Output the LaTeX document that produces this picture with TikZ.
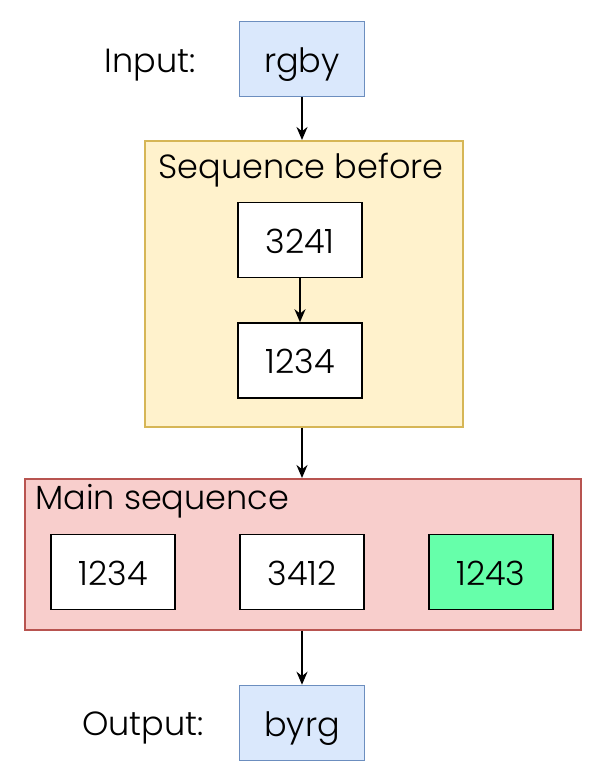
\documentclass[tikz,border=0pt]{standalone}
\usepackage{fontspec}
\setmainfont{Poppins}[UprightFont=* Light]
\usepackage{tikz}
\usetikzlibrary{shapes,arrows.meta,positioning}

\definecolor{ioFill}{HTML}{DAE8FC}
\definecolor{ioDraw}{HTML}{6C8EBF}
\definecolor{beforeFill}{HTML}{FFF2CC}
\definecolor{beforeDraw}{HTML}{D6B656}
\definecolor{mainFill}{HTML}{F8CECC}
\definecolor{mainDraw}{HTML}{B85450}
\definecolor{hitFill}{HTML}{66FFAA}

\begin{document}
\begin{tikzpicture}[x=1pt, y=-1pt, font=\fontsize{33.5}{40}\selectfont, >={Stealth[length=13pt,width=11pt]}]
    % Define styles
    \tikzstyle{io} = [rectangle, minimum width=125pt, minimum height=75pt, text height=26pt, text depth=0pt, text centered, draw=ioDraw, line width=1.5pt, fill=ioFill]
    \tikzstyle{perm} = [rectangle, minimum width=124pt, minimum height=75pt, text height=26pt, text depth=0pt, text centered, draw=black, line width=1.5pt, fill=white]
    \tikzstyle{group} = [rectangle, draw, line width=1.5pt, anchor=north west]
    \tikzstyle{label} = [inner sep=0pt]
    \tikzstyle{arrow} = [->, line width=1.8pt]

    \useasboundingbox (0,0) rectangle (597,776);

    % Containers
    \node[group, draw=beforeDraw, fill=beforeFill, minimum width=318pt, minimum height=286pt] (seq_before) at (144,140) {};
    \node[group, draw=mainDraw, fill=mainFill, minimum width=556pt, minimum height=151pt] (main_seq) at (24,478) {};
    \node[label, anchor=base] (before_title) at (301,178) {Sequence before};
    \node[label, anchor=base west] (main_title) at (35,509) {Main sequence};

    % Nodes
    \node[io] (input) at (302,59) {rgby};
    \node[label, anchor=base east] (input_label) at (196,72) {Input:};
    \node[perm] (before_a) at (300,240) {3241};
    \node[perm, below=44pt of before_a] (before_b) {1234};
    \node[perm] (main_a) at (113,572) {1234};
    \node[perm, right=63.5pt of main_a] (main_b) {3412};
    \node[perm, fill=hitFill, right=63.5pt of main_b] (main_c) {1243};
    \node[io] (output) at (302,723) {byrg};
    \node[label, anchor=base east] (output_label) at (204,735) {Output:};

    % Connections
    \draw[arrow] (input) -- (seq_before.north -| input);
    \draw[arrow] (before_a) -- (before_b);
    \draw[arrow] (seq_before.south -| input) -- (main_seq.north -| input);
    \draw[arrow] (main_seq.south -| output) -- (output);
\end{tikzpicture}
\end{document}
